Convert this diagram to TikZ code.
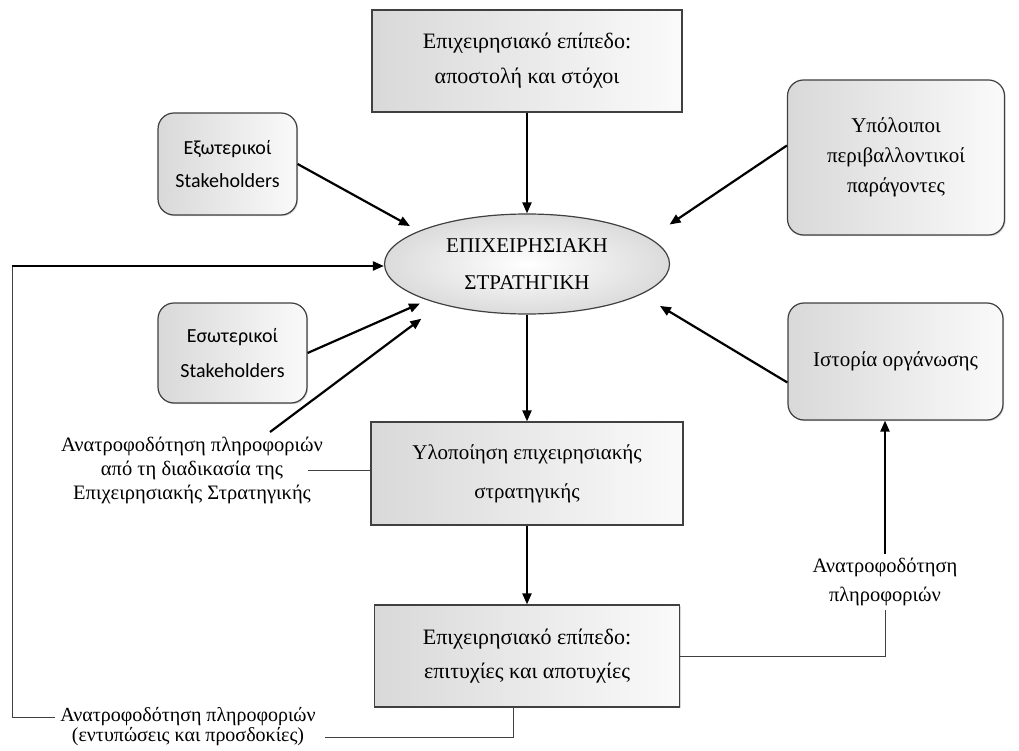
\documentclass[tikz,border=0pt]{standalone}
\usepackage{fontspec}
\setmainfont{Liberation Serif}
\newfontfamily\sansgr{Carlito}
\usetikzlibrary{arrows.meta,shapes.geometric,shadows}
\newcommand\myfs[2]{\fontsize{#1}{#2}\selectfont}
\begin{document}
\begin{tikzpicture}[x=1pt,y=-1pt,
  box/.style={draw=black!75, line width=1.2pt, left color=gray!30, right color=gray!4,
    align=center, inner sep=0pt, drop shadow={shadow xshift=1.2pt,shadow yshift=-1.2pt,opacity=0.3}},
  sqbox/.style={box, rectangle},
  rbox/.style={box, rectangle, rounded corners=16pt},
  arr/.style={line width=2.2pt, -{Triangle[length=11pt,width=9pt]}},
  thinln/.style={line width=1pt, draw=black!75},
  lbl/.style={align=center, inner sep=4pt}
]
\path[use as bounding box, fill=white] (0,0) rectangle (1019,751);

\node[sqbox, minimum width=310pt, minimum height=102pt, font=\myfs{22}{35}] (top) at (527,61)
  {Επιχειρησιακό επίπεδο:\\αποστολή και στόχοι};
\node[rbox, minimum width=139pt, minimum height=102pt, font=\sansgr\myfs{20}{33}] (ext) at (227.5,164)
  {Εξωτερικοί\\Stakeholders};
\node[rbox, minimum width=217pt, minimum height=155pt, font=\myfs{21}{30}] (oth) at (896,157.5)
  {Υπόλοιποι\\περιβαλλοντικοί\\παράγοντες};
\node[ellipse, draw=black!75, line width=1.2pt, inner color=white, outer color=gray!28,
  minimum width=285pt, minimum height=100pt, align=center, inner sep=0pt, font=\myfs{21}{37}] (strat) at (527,264)
  {ΕΠΙΧΕΙΡΗΣΙΑΚΗ\\ΣΤΡΑΤΗΓΙΚΗ};
\node[rbox, minimum width=149pt, minimum height=100pt, font=\sansgr\myfs{20}{35}] (int) at (232.5,353)
  {Εσωτερικοί\\Stakeholders};
\node[rbox, minimum width=215pt, minimum height=117pt, font=\myfs{21}{30}] (hist) at (895.5,361.5)
  {Ιστορία οργάνωσης};
\node[sqbox, minimum width=312pt, minimum height=103pt, font=\myfs{21}{39}] (impl) at (527,473.5)
  {Υλοποίηση επιχειρησιακής\\στρατηγικής};
\node[sqbox, minimum width=305pt, minimum height=102pt, font=\myfs{22}{34}] (res) at (527,656)
  {Επιχειρησιακό επίπεδο:\\επιτυχίες και αποτυχίες};

\node[lbl, font=\myfs{20.5}{24}] (fb1) at (192,470) {Ανατροφοδότηση πληροφοριών\\από τη διαδικασία της\\Επιχειρησιακής Στρατηγικής};
\node[lbl, font=\myfs{20.5}{29}] (fb2) at (885,582) {Ανατροφοδότηση\\πληροφοριών};
\node[lbl, inner sep=0pt, font=\myfs{20}{20}] (fb3) at (188,727) {Ανατροφοδότηση πληροφοριών\\(εντυπώσεις και προσδοκίες)};

\coordinate (fb1top) at (270,432);
\coordinate (fb1r) at (308,470);
\coordinate (fb3l) at (55,717);
\coordinate (fb3r) at (325,737);
\coordinate (corner) at (12,266);

\draw[arr] (top.south) -- (strat.north);
\draw[arr, shorten >=10pt] (ext.east) -- (strat.163);
\draw[arr, shorten >=24pt] ([yshift=12pt]oth.west) -- (strat.12);
\draw[arr, shorten >=8pt] (int.east) -- (strat.200);
\draw[arr, shorten >=24pt] (fb1top) -- (strat.205);
\draw[arr, shorten >=22pt] ([yshift=-21pt]hist.west) -- (strat.345);
\draw[arr] (strat.south) -- (impl.north);
\draw[arr] (impl.south) -- (res.north);
\draw[arr] (fb2.north) -- (fb2.north |- hist.south);
\draw[thinln] (res.east) -| (fb2.south);
\draw[thinln] (fb1r) -- (fb1r -| impl.west);
\draw[thinln] ([xshift=-14pt]res.south) |- (fb3r);
\draw[thinln] (fb3l) -| (corner);
\draw[arr] (corner) -- (corner -| strat.west);
\end{tikzpicture}
\end{document}
